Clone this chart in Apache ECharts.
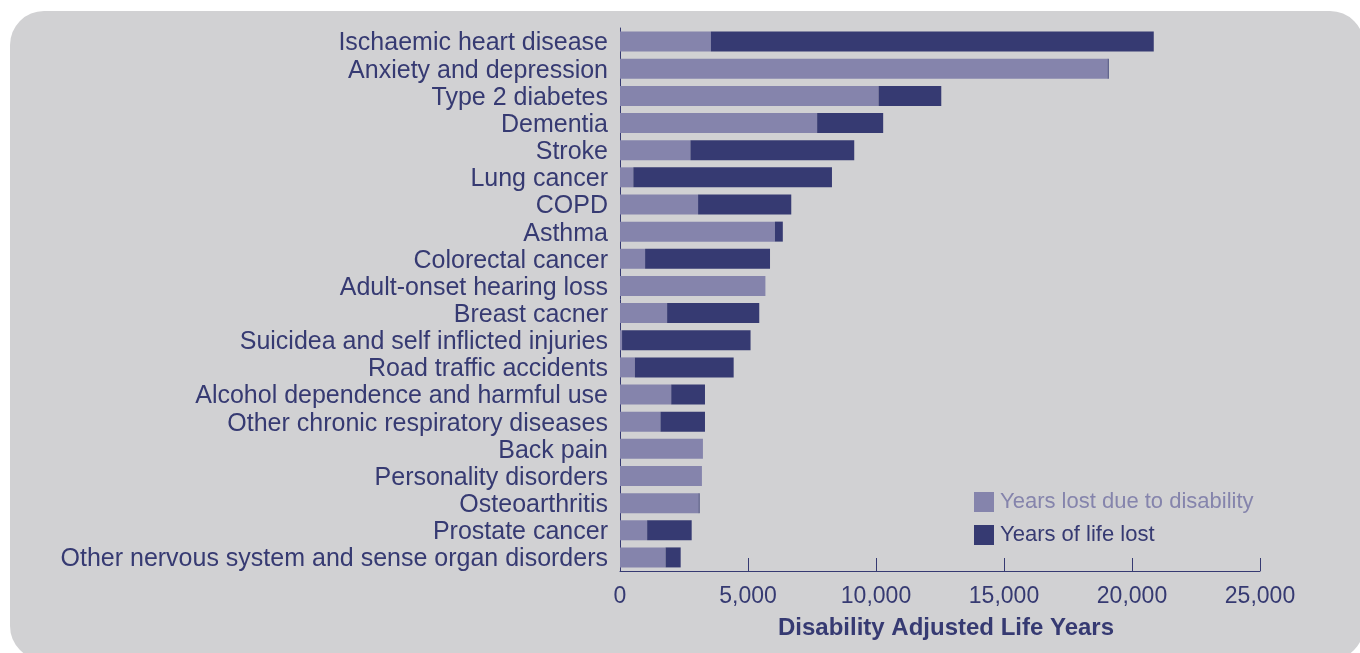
<!DOCTYPE html>
<html>
<head>
<meta charset="utf-8">
<title>Disability Adjusted Life Years</title>
<script src="https://cdn.jsdelivr.net/npm/echarts@6/dist/echarts.min.js"></script>
<style>
  html, body { margin: 0; padding: 0; background: #fff; }
  #chart { width: 1360px; height: 653px; }
</style>
</head>
<body>
<div id="chart"></div>
<script>
// categories top to bottom
const categories = [
  'Ischaemic heart disease',
  'Anxiety and depression',
  'Type 2 diabetes',
  'Dementia',
  'Stroke',
  'Lung cancer',
  'COPD',
  'Asthma',
  'Colorectal cancer',
  'Adult-onset hearing loss',
  'Breast cacner',
  'Suicidea and self inflicted injuries',
  'Road traffic accidents',
  'Alcohol dependence and harmful use',
  'Other chronic respiratory diseases',
  'Back pain',
  'Personality disorders',
  'Osteoarthritis',
  'Prostate cancer',
  'Other nervous system and sense organ disorders'
]
// years lost due to disability
const yld = [3550, 19050, 10100, 7700, 2750, 520, 3050, 6050, 980, 5680, 1840, 80, 580, 2000, 1580, 3240, 3200, 3070, 1060, 1780]
// years of life lost
const yll = [17300, 40, 2450, 2580, 6400, 7760, 3640, 310, 4880, 0, 3600, 5020, 3860, 1320, 1740, 0, 0, 40, 1740, 590]
const ticks = [0, 5000, 10000, 15000, 20000, 25000]

const light = '#8584ac'
const dark = '#363a72'
const font = 'Liberation Sans, Arial, sans-serif'

const chart = echarts.init(document.getElementById('chart'))
chart.setOption({
  animation: false,
  textStyle: { fontFamily: font },
  graphic: [{
    type: 'rect',
    z: -10,
    shape: { x: 10, y: 11, width: 1354, height: 649, r: 34 },
    style: { fill: '#d1d1d3' }
  }],
  legend: {
    data: [
      { name: 'Years lost due to disability', textStyle: { color: light } },
      { name: 'Years of life lost', textStyle: { color: dark } }
    ],
    orient: 'vertical',
    left: 974,
    top: 491,
    padding: 0,
    itemWidth: 20,
    itemHeight: 20,
    itemGap: 11,
    icon: 'rect',
    textStyle: { fontSize: 22, lineHeight: 20, fontFamily: font, padding: [2, 0, 0, 1] }
  },
  grid: { left: 620, right: 100, top: 28, bottom: 82 },
  xAxis: {
    type: 'value',
    min: ticks[0],
    max: ticks[ticks.length - 1],
    interval: 5000,
    name: 'Disability Adjusted Life Years',
    nameLocation: 'middle',
    nameGap: 45,
    nameTextStyle: { color: dark, fontSize: 24, fontWeight: 'bold', fontFamily: font, padding: [0, 0, 0, 12] },
    axisLine: { show: true, lineStyle: { color: dark, width: 1 } },
    axisTick: { show: true, inside: true, length: 13, lineStyle: { color: dark } },
    axisLabel: {
      color: dark, fontSize: 23, margin: 14, fontFamily: font,
      formatter: v => v.toLocaleString('en-US')
    },
    splitLine: { show: false }
  },
  yAxis: {
    type: 'category',
    data: categories,
    inverse: true,
    axisLine: { show: true, lineStyle: { color: dark, width: 1 } },
    axisTick: { show: false },
    axisLabel: {
      interval: 0, color: dark, fontSize: 25, margin: 12, fontFamily: font,
      verticalAlign: 'top', lineHeight: 4
    }
  },
  series: [
    {
      name: 'Years lost due to disability',
      type: 'bar',
      stack: 'daly',
      data: yld,
      barWidth: 20,
      itemStyle: { color: light },
      emphasis: { disabled: true }
    },
    {
      name: 'Years of life lost',
      type: 'bar',
      stack: 'daly',
      data: yll,
      barWidth: 20,
      itemStyle: { color: dark },
      emphasis: { disabled: true }
    }
  ]
})
</script>
</body>
</html>
